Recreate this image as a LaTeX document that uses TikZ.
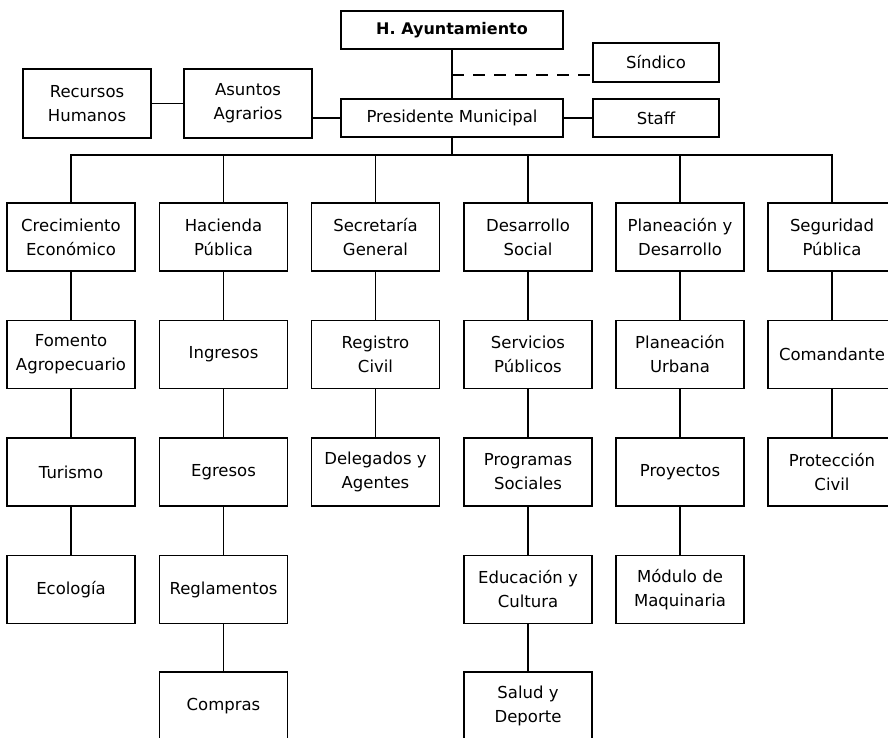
\documentclass[tikz,border=0pt]{standalone}
\usepackage{fontspec}
\setmainfont{DejaVu Sans}
\begin{document}
\begin{tikzpicture}[x=1pt,y=-1pt,
  box/.style={draw, line width=1.4pt, align=center, inner sep=0pt,
    font=\fontsize{16.5}{24}\selectfont, minimum width=128pt, minimum height=68pt},
  topbox/.style={box, minimum width=222pt, minimum height=38pt},
  sidebox/.style={box, minimum width=126pt, minimum height=38pt},
  link/.style={line width=1.4pt},
  dashlink/.style={line width=1.4pt, dash pattern=on 12pt off 9pt}]
\useasboundingbox (0,0) rectangle (888,737);
\clip (0,0) rectangle (888,737);

% top part
\node[topbox, font=\fontsize{16}{24}\selectfont\bfseries] (ayu) at (452,30) {H. Ayuntamiento};
\node[topbox] (pres) at (452,118) {Presidente Municipal};
\node[sidebox, minimum height=39pt] (sind) at (656,62.5) {Síndico};
\node[sidebox] (staff) at (656,118) {Staff};
\node[box, minimum width=128pt, minimum height=69pt] (rh) at (87,103.5) {Recursos\\Humanos};
\node[box, minimum width=128pt, minimum height=69pt] (aa) at (248,103.5) {Asuntos\\Agrarios};

\coordinate (dj) at (452,75);
\coordinate (bus) at (452,155);

\draw[link] (ayu.south) -- (pres.north);
\draw[dashlink] (dj) -- (dj -| sind.west);
\draw[link] (rh.east) -- (aa.west);
\draw[link] (pres.west) -- (pres.west -| aa.east);
\draw[link] (pres.east) -- (staff.west);
\draw[link] (pres.south) -- (bus);

% column 1
\node[box] (a1) at (71,237) {Crecimiento\\Económico};
\node[box] (a2) at (71,354.5) {Fomento\\Agropecuario};
\node[box] (a3) at (71,472) {Turismo};
\node[box] (a4) at (71,589.5) {Ecología};
% column 2
\node[box] (b1) at (223.5,237) {Hacienda\\Pública};
\node[box] (b2) at (223.5,354.5) {Ingresos};
\node[box] (b3) at (223.5,472) {Egresos};
\node[box] (b4) at (223.5,589.5) {Reglamentos};
\node[box] (b5) at (223.5,706) {Compras};
% column 3
\node[box] (c1) at (375.5,237) {Secretaría\\General};
\node[box] (c2) at (375.5,354.5) {Registro\\Civil};
\node[box] (c3) at (375.5,472) {Delegados y\\Agentes};
% column 4
\node[box] (d1) at (528,237) {Desarrollo\\Social};
\node[box] (d2) at (528,354.5) {Servicios\\Públicos};
\node[box] (d3) at (528,472) {Programas\\Sociales};
\node[box] (d4) at (528,589.5) {Educación y\\Cultura};
\node[box] (d5) at (528,706) {Salud y\\Deporte};
% column 5
\node[box] (e1) at (680,237) {Planeación y\\Desarrollo};
\node[box] (e2) at (680,354.5) {Planeación\\Urbana};
\node[box] (e3) at (680,472) {Proyectos};
\node[box] (e4) at (680,589.5) {Módulo de\\Maquinaria};
% column 6
\node[box] (f1) at (832,237) {Seguridad\\Pública};
\node[box] (f2) at (832,354.5) {Comandante};
\node[box] (f3) at (832,472) {Protección\\Civil};

% bus
\foreach \n in {a1,b1,c1,d1,e1,f1} \draw[link] (\n.north) |- (bus);

% chains
\draw[link] (a1.south) -- (a2.north) (a2.south) -- (a3.north) (a3.south) -- (a4.north);
\draw[link] (b1.south) -- (b2.north) (b2.south) -- (b3.north) (b3.south) -- (b4.north) (b4.south) -- (b5.north);
\draw[link] (c1.south) -- (c2.north) (c2.south) -- (c3.north);
\draw[link] (d1.south) -- (d2.north) (d2.south) -- (d3.north) (d3.south) -- (d4.north) (d4.south) -- (d5.north);
\draw[link] (e1.south) -- (e2.north) (e2.south) -- (e3.north) (e3.south) -- (e4.north);
\draw[link] (f1.south) -- (f2.north) (f2.south) -- (f3.north);
\end{tikzpicture}
\end{document}
